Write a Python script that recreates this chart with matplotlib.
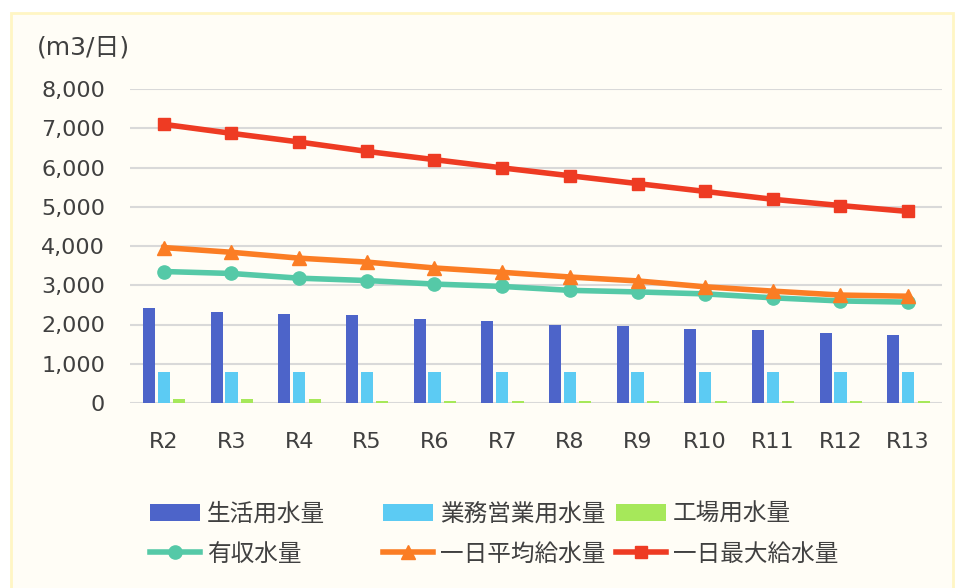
import matplotlib
matplotlib.use("Agg")
from matplotlib import pyplot as plt
from matplotlib.patches import Rectangle
import numpy as np

plt.rcParams['font.family'] = ['DejaVu Sans', 'Noto Sans CJK JP']

# データ
years = ['R2', 'R3', 'R4', 'R5', 'R6', 'R7', 'R8', 'R9', 'R10', 'R11', 'R12', 'R13']
seikatsu = [2430, 2330, 2280, 2240, 2150, 2100, 1990, 1950, 1890, 1850, 1790, 1740]
gyomu = [780, 780, 780, 780, 780, 780, 780, 780, 780, 780, 780, 780]
kojo = [110, 110, 110, 60, 60, 60, 60, 60, 60, 60, 60, 60]
yushu = [3350, 3300, 3180, 3120, 3030, 2970, 2870, 2830, 2780, 2680, 2600, 2570]
heikin = [3960, 3840, 3690, 3590, 3440, 3330, 3210, 3110, 2960, 2850, 2750, 2720]
saidai = [7100, 6870, 6650, 6410, 6200, 5990, 5790, 5590, 5390, 5190, 5030, 4880]

bar_names = ['生活用水量', '業務営業用水量', '工場用水量']
line_names = ['有収水量', '一日平均給水量', '一日最大給水量']

W, H = 962, 588
fig = plt.figure(figsize=(W / 100, H / 100), dpi=100, facecolor='white')

# 背景パネル
panel = Rectangle((11 / W, -0.05), 942 / W, 1.05 - 13 / H, transform=fig.transFigure,
                  facecolor='#fffdf6', edgecolor='#fff6c4', linewidth=2, zorder=-1)
fig.patches.append(panel)

ax = fig.add_axes([130 / W, 1 - 403 / H, 812 / W, 314 / H])
ax.set_zorder(1)
ax.set_facecolor('none')

x = np.arange(len(years))
bw = 0.18
ax.bar(x - 0.22, seikatsu, bw, color='#4d64c9', label=bar_names[0], zorder=2)
ax.bar(x, gyomu, bw, color='#5ccbf3', label=bar_names[1], zorder=2)
ax.bar(x + 0.23, kojo, bw, color='#a6e85a', label=bar_names[2], zorder=2)

ax.plot(x, yushu, color='#55c9a7', lw=4, marker='o', ms=9.5, label=line_names[0], zorder=3)
ax.plot(x, heikin, color='#fb7d24', lw=4, marker='^', ms=10, label=line_names[1], zorder=4)
ax.plot(x, saidai, color='#ee3b23', lw=4, marker='s', ms=8, label=line_names[2], zorder=5)

ax.set_xlim(-0.5, 11.5)
ax.set_ylim(0, 8000)
ax.set_yticks(range(0, 8001, 1000))
ax.set_yticklabels([f'{v:,}' for v in range(0, 8001, 1000)])
ax.set_xticks(x)
ax.set_xticklabels(years)
ax.tick_params(axis='y', length=0, pad=18, labelsize=16, labelcolor='#404040')
ax.tick_params(axis='x', length=0, pad=21, labelsize=16, labelcolor='#404040')
ax.grid(axis='y', color='#d9d9d9', lw=1.5, zorder=1)
for s in ax.spines.values():
    s.set_visible(False)

fig.text(37 / W, 1 - 48 / H, '(m3/日)', fontsize=18, color='#404040', va='center', ha='left')

# 凡例 (列ごと)
handles, labels = ax.get_legend_handles_labels()
cols_x = [150, 383, 616]
for i in range(3):
    leg = fig.legend([handles[3 + i], handles[i]], [labels[3 + i], labels[i]],
                     loc='upper left', bbox_to_anchor=(cols_x[i] / W, 1 - 503 / H),
                     frameon=False, handlelength=2.1, handletextpad=0.3,
                     labelspacing=0.7, borderpad=0, borderaxespad=0,
                     prop={'family': ['Noto Sans CJK JP'], 'size': 17})
    for t in leg.get_texts():
        t.set_color('#404040')

fig.savefig('out.png', dpi=100, facecolor='white')
